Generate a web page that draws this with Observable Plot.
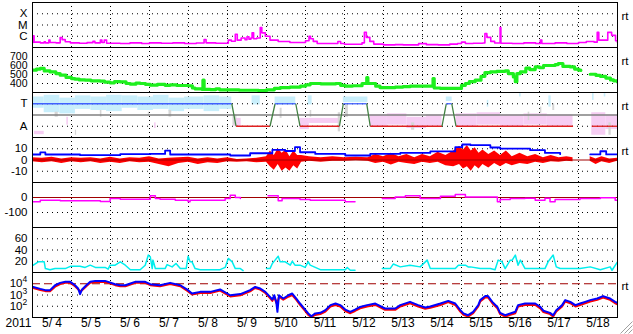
<!DOCTYPE html>
<html><head><meta charset="utf-8">
<script src="https://cdn.jsdelivr.net/npm/d3@7"></script>
<script src="https://cdn.jsdelivr.net/npm/@observablehq/plot@0.6"></script>
<style>
body{margin:0;background:#fff;}
#chart{position:relative;width:633px;height:334px;overflow:hidden;background:#fff;font-family:"Liberation Sans",Arial,sans-serif;}
#chart svg{position:absolute;left:0;}
</style></head><body><div id="chart"></div>
<script>
// ---- axis / tick data ----
const dateLabels = ["5/ 4","5/ 5","5/ 6","5/ 7","5/ 8","5/ 9","5/10","5/11","5/12","5/13","5/14","5/15","5/16","5/17","5/18"];
const yearLabel = "2011";
const dayLines = [1,2,3,4,5,6,7,8,9,10,11,12,13,14];

// ---- panel 1: X-ray flux (W/m2) ----
const xrayLevels = [1e-4, 1e-5, 1e-6];
const xrayClasses = ["X", "M", "C"];
const xrayDay = [0,0.02,0.04,0.2,0.3,0.33,0.42,0.45,0.6,0.71,0.76,0.84,0.97,1.2,1.4,1.55,1.6,1.74,1.78,1.84,1.9,2.25,2.5,2.8,3.0,3.3,3.6,3.9,4.2,4.4,4.45,4.7,5.02,5.1,5.2,5.25,5.35,5.45,5.5,5.55,5.6,5.63,5.67,5.75,5.84,5.88,5.97,6.09,6.3,6.6,6.9,7.0,7.09,7.13,7.2,7.3,7.6,7.83,7.9,8.0,8.3,8.45,8.51,8.56,8.65,8.75,9.0,9.3,9.5,9.9,10.1,10.4,10.7,10.9,11.0,11.1,11.3,11.55,11.6,11.65,11.75,11.85,11.99,12.01,12.3,12.6,12.9,13.02,13.06,13.4,13.7,14.0,14.2,14.4,14.48,14.52,14.7,14.75,14.85,14.95,15];
const xrayFlux = [2.8e-7,1.07e-6,3.0e-7,2.6e-7,3.2e-7,2.6e-7,4.5e-7,2.8e-7,2.6e-7,7.8e-7,5.0e-7,3.2e-7,2.6e-7,2.4e-7,2.7e-7,3.5e-7,2.6e-7,4.5e-7,2.8e-7,4.5e-7,2.4e-7,2.3e-7,2.6e-7,2.3e-7,2.6e-7,2.4e-7,2.6e-7,2.3e-7,2.5e-7,5.1e-7,2.6e-7,2.4e-7,4.5e-7,3.6e-7,1.5e-6,4.5e-7,7.0e-7,5.0e-7,9.0e-7,5.5e-7,7.0e-7,2.0e-6,6.0e-7,7.0e-7,6.0e-6,2.0e-6,1.0e-6,4.5e-7,3.4e-7,2.8e-7,2.8e-7,4.0e-7,1.0e-6,6.0e-7,3.5e-7,2.3e-7,2.3e-7,3.4e-7,2.3e-7,1.95e-7,1.95e-7,2.6e-7,2.3e-6,8.0e-7,3.5e-7,2.0e-7,1.7e-7,1.8e-7,1.7e-7,2.2e-7,1.8e-7,1.7e-7,2.0e-7,2.3e-7,3.0e-7,2.3e-7,2.4e-7,2.5e-7,1.7e-6,8.0e-7,3.5e-7,2.5e-7,6.0e-6,2.4e-7,2.3e-7,2.6e-7,2.3e-7,4.5e-7,2.3e-7,2.6e-7,2.3e-7,2.8e-7,3.4e-7,3.0e-7,2.2e-6,4.5e-7,4.5e-7,2.2e-6,1.2e-6,4.0e-7,2.8e-7];

// ---- panel 2: solar wind speed (km/s) ----
const speedTicks = [400, 500, 600, 700];
const speedDay = [0.02,0.1,0.2,0.3,0.45,0.6,0.71,0.86,1.0,1.09,1.2,1.35,1.5,1.74,1.85,1.99,2.1,2.25,2.4,2.51,2.65,2.76,2.9,3.02,3.2,3.4,3.53,3.7,3.99,4.1,4.17,4.34,4.37,4.40,4.56,4.7,4.8,5.02,5.3,5.59,5.8,6.0,6.2,6.35,6.6,6.87,7.0,7.12,7.4,7.77,7.9,8.02,8.2,8.33,8.45,8.57,8.6,8.66,8.8,8.91,9.1,9.3,9.5,9.68,9.9,10.12,10.27,10.3,10.46,10.7,10.92,11.0,11.1,11.2,11.35,11.5,11.6,11.74,11.9,12.12,12.2,12.33,12.38,12.42,12.51,12.65,12.75,12.89,13.0,13.1,13.27,13.4,13.48,13.6,13.79,13.9,14.0,14.06,14.2,14.3,14.45,14.56,14.7,14.82,14.9,15];
const speedKms = [548,560,567,540,529,510,492,467,455,448,440,437,430,426,415,407,420,418,400,392,405,400,390,381,390,380,385,378,375,350,340,335,437,335,333,340,330,330,325,325,320,330,345,355,360,370,385,400,395,400,380,370,375,375,400,465,400,400,370,355,355,360,365,370,370,370,455,350,345,345,345,380,400,420,437,480,520,529,535,540,510,473,420,510,529,570,555,584,575,600,600,610,622,590,584,560,548,545,NaN,503,490,480,460,440,430,418];

// ---- panel 3: IMF sector (T = +1, A = -1) ----
const sectorDay = [0,5.11,5.22,6.09,6.22,6.75,6.86,7.87,7.97,8.57,8.66,10.5,10.61,10.75,10.86,13.86,14.1,14.34,15];
const sectorVal = [1,1,-1,-1,1,1,-1,-1,1,1,-1,-1,1,1,-1,-1,NaN,-1,-1];
const towardPts = [[0,0.3,0.6,1.6],[0.3,0.7,0.2,1.75],[0.7,1.1,0.1,1.5],[1.1,1.5,0.5,1.7],[1.5,1.9,0.4,1.6],[1.9,2.3,0.3,1.75],[2.3,2.7,0.6,1.7],[2.7,3.1,0.4,1.6],[3.1,3.5,0.5,1.75],[3.5,3.9,0.3,1.5],[3.9,4.4,0.5,1.6],[4.4,4.8,0.3,1.7],[4.8,5.11,0.5,1.6],[5.63,5.84,0.9,1.7],[6.22,6.75,0.9,1.6],[7.07,7.17,0.9,1.7],[7.97,8.6,1.1,1.6],[10.61,10.76,1.2,1.6],[11.66,11.7,0.7,1.3],[12.49,12.53,1.6,1.9],[13.24,13.3,0.7,1.7],[14.36,14.4,1.3,1.9],[14.66,14.7,1.6,1.9]];
const awayPts = [[0.05,0.3,-1.75,-1.45],[0.88,0.92,-0.9,-0.2],[3.13,3.17,-1.2,-0.7],[5.15,5.35,-1.0,-0.3],[6.86,7.1,-1.3,-0.3],[7.1,7.87,-0.75,-0.3],[8.66,9.1,-1.1,0.0],[9.1,9.6,-0.9,0.1],[9.6,10.1,-1.2,-0.2],[10.1,10.5,-1.0,0.0],[10.86,11.4,-1.1,0.1],[11.4,12.0,-0.9,0.2],[12.0,12.6,-1.1,0.0],[12.6,13.2,-0.9,0.1],[13.2,13.86,-1.0,0.0],[14.34,14.7,-1.8,0.2],[14.7,15,-1.3,0.0]];
const grayPts = [[0.58,0.66,-0.2,0.25],[1.1,1.13,-1.8,-1.35],[1.74,1.78,-0.2,0.4],[2.97,3.0,-0.1,0.25],[3.5,3.57,-0.2,0.4],[5.14,5.24,-0.9,0.0],[6.35,6.4,-0.3,0.6],[7.12,7.16,-0.2,0.4],[7.84,7.9,-1.5,0.2],[8.02,8.1,-0.2,0.9],[9.72,9.8,-1.35,-0.7],[12.71,12.75,-0.5,0.25],[13.02,13.06,0.15,0.7],[13.34,13.39,0.4,1.0],[14.78,14.84,-1.8,-0.7]];

// ---- panel 4: IMF Bt (blue) and Bz range (red), nT ----
const bTicks = [10, 0, -10];
const btDay = [0,0.2,0.33,1.22,2.25,3.02,3.4,3.53,5.07,5.58,6.15,6.48,6.73,6.86,7.25,8.02,8.66,9.43,10.2,10.84,11.02,11.23,11.74,11.99,12.76,13.14,13.53,13.86,14.3,14.56,14.71,15];
const btNT = [4.9,6.7,4.9,4.3,5.2,5.4,8.4,4.9,4.0,6.0,9.0,8.0,11.4,6.9,5.4,4.0,5.4,6.3,7.6,11.4,13.8,13.2,11.1,10.2,8.7,6.3,5.2,NaN,5.0,7.8,5.0,5.0];
const bzDay = [0,0.25,0.5,0.75,1,1.25,1.5,1.75,2,2.25,2.5,2.75,3,3.25,3.5,3.75,4,4.25,4.5,4.75,5,5.25,5.5,5.75,6,6.1,6.2,6.3,6.4,6.5,6.6,6.7,6.8,6.9,7.1,7.4,7.7,8,8.3,8.6,8.8,9,9.2,9.4,9.6,9.8,10,10.2,10.4,10.6,10.8,10.95,11.05,11.15,11.25,11.35,11.45,11.55,11.7,11.85,12,12.15,12.3,12.5,12.7,12.9,13.1,13.3,13.5,13.7,13.86,14.1,14.3,14.45,14.6,14.8,15];
const bzLo = [-1.5,-2.5,-1.5,-3,-1.5,-2.5,-1.5,-3,-2,-3,-1.5,-2.5,-2,-4,-6,-3,-2,-4,-2.5,-3,-1.5,-2,-1.5,-2.5,-2,-6,-9,-4,-10,-7,-10,-5,-8,-2,-1,-2,-1,-1,-0.5,-1,-3,-2,-4.5,-2,-3,-4,-2,-3,-2,-5,-6,-4,-8,-6,-10,-5,-8,-4,-7,-3,-6,-3,-5,-3,-4,-2,-3,-1.5,-2,-1,-1.5,NaN,-1,-4,-1.5,-3,-1];
const bzHi = [2,1.5,2.5,1,2,1.5,2,1,2.5,1,2,1.5,3,1,1.5,2,2.5,1,2,1,2,0.5,1,1.5,3,8,4,10,6,9,3,8,4,4,3,2,3,2,2.5,2,5,3,6,3,5,2,5,3,7,4,8,12,9,13,8,11,6,9,5,8,4,8,3,6,3,5,2,4,2,3,2,NaN,3,1,3,1,1.5];

// ---- panel 5: Dst (nT) ----
const dstTicks = [0, -100];
const dstDay = [0,0.2,0.71,1.74,1.99,2.25,2.97,3.02,3.15,3.27,3.66,3.99,4.04,4.81,4.94,5.07,5.2,5.33,5.5,6.04,6.22,6.3,6.4,6.86,7.12,7.89,8.02,8.27,8.6,8.97,9.3,9.56,9.94,10.46,10.84,11.1,11.86,11.92,11.99,12.25,12.63,12.89,13.14,13.27,13.4,14.04,14.56,14.86,14.94,15];
const dstNT = [-29,-18,-21,-27,-7,-11,-11,11,-7,-11,-18,-29,-18,-18,-7,15,0,-7,NaN,11,11,-22,-7,-13,-18,-18,-29,-29,NaN,-7,4,11,-7,9,20,4,4,-29,-13,-7,-5,-18,-5,-29,-13,-7,-2,-2,-18,-18];

// ---- panel 6: cyan index ----
const cyanTicks = [60, 40, 20];
const cyanDay = [0.02,0.15,0.3,0.33,0.45,0.58,0.84,0.97,1.22,1.35,1.48,1.61,1.86,1.94,1.99,2.12,2.25,2.38,2.51,2.76,2.89,2.97,3.02,3.07,3.09,3.15,3.4,3.45,3.58,3.68,3.79,3.94,3.99,4.04,4.09,4.17,4.3,4.81,4.94,5.02,5.12,5.2,5.33,5.4,5.5,6.0,6.09,6.15,6.22,6.3,6.35,6.48,6.61,6.66,6.73,6.86,6.99,7.07,7.12,7.38,8.02,8.07,8.15,8.27,8.5,8.97,9.17,9.25,9.43,9.68,9.94,10.12,10.2,10.84,10.92,11.1,11.17,11.23,11.48,11.74,11.86,11.94,12.04,12.12,12.25,12.3,12.38,12.45,12.51,12.63,13.14,13.22,13.35,13.43,13.53,14.04,14.3,14.56,14.81,14.86,15];
const cyanVal = [13,19,19,7,5,7,7,11,11,9,13,9,9,6,13,13,19,13,5,5,13,31,28,7,22,7,7,14,10,16,7,7,29,19,19,7,5,5,9,25,19,7,7,3.4,NaN,7,7,16,22,29,19,19,13,20,13,13,9,19,13,5,5,9,4,4,NaN,7,7,15,10,13,10,22,7,7,13,13,10,10,7,7,5,22,19,7,22,22,31,13,22,7,7,19,31,10,7,7,10,5,10,4,19];

// ---- panel 7: electron flux (blue, red) ----
const eTicks = [1e4, 1e3, 1e2];
const eExp = ["4", "3", "2"];
const eDay = [0.02,0.2,0.33,0.45,0.58,0.71,0.84,0.97,1.09,1.17,1.22,1.27,1.38,1.48,1.61,1.86,1.94,2.12,2.25,2.38,2.51,2.63,2.89,3.02,3.27,3.53,3.79,3.99,4.09,4.3,4.56,4.81,5.07,5.33,5.58,5.71,5.84,5.97,6.09,6.15,6.2,6.25,6.28,6.32,6.43,6.56,6.66,6.76,6.86,6.99,7.07,7.15,7.25,7.38,7.51,7.64,7.77,7.89,8.02,8.15,8.27,8.4,8.58,8.79,9.04,9.3,9.43,9.68,9.89,10.07,10.2,10.46,10.66,10.84,10.97,11.05,11.17,11.3,11.43,11.48,11.61,11.68,11.79,11.92,11.99,12.12,12.25,12.38,12.45,12.63,12.89,13.02,13.1,13.27,13.35,13.43,13.58,13.66,13.79,13.92,14.04,14.17,14.3,14.48,14.63,14.81,14.94,15];
const eBlue = [5.2e3,3.5e3,2.7e3,2.7e3,7.4e3,1.2e4,1.48e4,1.48e4,7.4e3,3.8e3,1.2e3,3.1e3,7.4e3,1.48e4,1.8e4,1.8e4,1.48e4,9.1e3,7.4e3,7.4e3,1.05e4,1.48e4,1.48e4,9.1e3,7.4e3,1.2e4,7.4e3,2.7e3,1.35e3,1.9e3,1.9e3,3.1e3,950,1.2e3,2.7e3,5.2e3,3.8e3,1.9e3,680,400,950,245,32,950,490,950,1.35e3,490,175,51,23,13,23,26,45,126,175,126,51,32,51,87,126,175,63,63,126,245,126,78,95,175,300,175,45,23,16,32,126,350,800,800,245,87,26,16,23,32,126,175,175,87,40,26,16,45,126,350,245,126,175,245,350,490,800,490,245,200];
const eRed = [4.2e3,2.8e3,2.2e3,2.2e3,5.5e3,9.5e3,1.2e4,1.2e4,6.0e3,3.2e3,2.2e3,2.6e3,6.0e3,1.2e4,1.4e4,1.4e4,1.2e4,7.5e3,6.0e3,6.0e3,8.5e3,1.2e4,1.2e4,7.5e3,6.0e3,9.5e3,6.0e3,2.1e3,1.1e3,1.5e3,1.5e3,2.5e3,750,950,2.1e3,4.2e3,3.0e3,1.5e3,520,300,700,200,200,700,380,700,1.0e3,380,130,38,17,11,17,20,34,95,130,95,38,24,38,65,95,130,48,48,95,185,95,60,72,130,230,130,34,17,12,24,95,260,600,600,185,65,20,12,17,24,95,130,130,65,30,20,12,34,95,260,185,95,130,185,260,370,600,370,185,150];

// ---- drawing ----
const chart = document.getElementById("chart");
const TOPS = [2, 47, 92, 137, 182, 227, 272];
const FONT = "'Liberation Sans', Arial, Helvetica, sans-serif";
const DOT = "1,4";
const VDOT = "1,3";
const LFS = 11.5;

function ylabels(vals, texts, fs = LFS) {
  return Plot.text(vals, {y: d => d, text: (d, i) => texts[i], frameAnchor: "left", textAnchor: "end", dx: -5, fontSize: fs, fill: "black"});
}
function grid(vals) {
  return Plot.ruleY(vals, {stroke: "black", strokeDasharray: DOT});
}
function rt() {
  return Plot.text(["rt"], {text: d => d, frameAnchor: "top-right", textAnchor: "start", dx: 4, dy: 9, fontSize: 11.5, fill: "black"});
}
function panel(i, y, marks, extra = 0) {
  const svg = Plot.plot({
    width: 633, height: 49 + extra,
    marginLeft: 32, marginRight: 16, marginTop: 2, marginBottom: 2 + extra,
    x: {domain: [0, 15], axis: null},
    y: {...y, axis: null},
    color: {type: "identity"},
    style: {background: "transparent", overflow: "visible", fontFamily: FONT, fontSize: "12px", color: "black"},
    marks: [
      Plot.ruleX(dayLines, {stroke: "black", strokeDasharray: VDOT}),
      ...marks,
      Plot.frame({stroke: "black"})
    ]
  });
  svg.style.position = "absolute";
  svg.style.top = (TOPS[i] - 2) + "px";
  svg.style.left = "0px";
  chart.appendChild(svg);
}
const idx = n => d3.range(n);
const rectOpts = fill => ({x1: d => d[0], x2: d => d[1], y1: d => d[2], y2: d => d[3], fill, clip: true});

// 1 X-ray
panel(0, {type: "log", domain: [1e-7, 1e-3]}, [
  grid(xrayLevels),
  ylabels(xrayLevels, xrayClasses),
  Plot.line(idx(xrayDay.length), {x: i => xrayDay[i], y: i => xrayFlux[i], stroke: "#ff00ff", strokeWidth: 1.6, curve: "step-after", clip: true}),
  rt()
]);

// 2 speed
panel(1, {domain: [300, 800]}, [
  grid(speedTicks),
  ylabels(speedTicks, speedTicks.map(String), 10.5),
  Plot.line(idx(speedDay.length), {x: i => speedDay[i], y: i => speedKms[i], stroke: "#1eef1e", strokeWidth: 3.2, curve: "step-after", clip: true}),
  rt()
]);

// 3 sector
const segs = d3.range(sectorDay.length - 1).filter(i => !isNaN(sectorVal[i]) && !isNaN(sectorVal[i + 1]));
panel(2, {domain: [-2, 2]}, [
  Plot.rect(towardPts, rectOpts("#c8eefb")),
  Plot.rect(awayPts, rectOpts("#f6cdf3")),
  Plot.rect(grayPts, rectOpts("#d6d6d6")),
  grid([1, -1]),
  Plot.ruleY([0], {stroke: "#808080", strokeWidth: 1.3}),
  ylabels([1, -1], ["T", "A"]),
  Plot.link(segs, {
    x1: i => sectorDay[i], y1: i => sectorVal[i], x2: i => sectorDay[i + 1], y2: i => sectorVal[i + 1],
    stroke: i => sectorVal[i] === sectorVal[i + 1] ? (sectorVal[i] > 0 ? "#4060ff" : "#e02020") : "#408040",
    strokeWidth: 1.3
  }),
  rt()
]);

// 4 Bt / Bz
panel(3, {domain: [-20, 20]}, [
  grid([10, -10]),
  ylabels(bTicks, bTicks.map(String)),
  Plot.areaY(idx(bzDay.length), {x: i => bzDay[i], y1: i => bzLo[i], y2: i => bzHi[i], fill: "#ff0000", clip: true}),
  Plot.ruleY([0], {stroke: "#a00000"}),
  Plot.line(idx(btDay.length), {x: i => btDay[i], y: i => btNT[i], stroke: "#0000ff", strokeWidth: 1.8, curve: "step-after", clip: true}),
  rt()
]);

// 5 Dst
panel(4, {domain: [-200, 100]}, [
  grid([-100]),
  Plot.ruleY([0], {stroke: "#a00000"}),
  ylabels(dstTicks, dstTicks.map(String)),
  Plot.line(idx(dstDay.length), {x: i => dstDay[i], y: i => dstNT[i], stroke: "#ff00ff", strokeWidth: 1.5, curve: "step-after", clip: true})
]);

// 6 cyan
panel(5, {domain: [0, 80]}, [
  grid(cyanTicks),
  ylabels(cyanTicks, cyanTicks.map(String)),
  Plot.line(idx(cyanDay.length), {x: i => cyanDay[i], y: i => cyanVal[i], stroke: "#00eeee", strokeWidth: 1.5, clip: true})
]);

// 7 electrons
panel(6, {type: "log", domain: [10, 1e5]}, [
  grid([1e3, 1e2]),
  Plot.ruleY([1e4], {stroke: "#a00000", strokeDasharray: "8,4", strokeWidth: 1.2}),
  Plot.text(eTicks, {y: d => d, text: () => "10", frameAnchor: "left", textAnchor: "end", dx: -10, fontSize: LFS, fill: "black"}),
  Plot.text(eTicks, {y: d => d, text: (d, i) => eExp[i], frameAnchor: "left", textAnchor: "start", dx: -10, dy: -4, fontSize: 8.5, fill: "black"}),
  Plot.line(idx(eDay.length), {x: i => eDay[i], y: i => eRed[i], stroke: "#ff0000", strokeWidth: 2, clip: true}),
  Plot.line(idx(eDay.length), {x: i => eDay[i], y: i => eBlue[i], stroke: "#0000ff", strokeWidth: 2, clip: true}),
  Plot.text(dateLabels, {x: (d, i) => i + 0.5, text: d => d, frameAnchor: "bottom", dy: 9, fontSize: 12, fill: "black"}),
  Plot.text([yearLabel], {text: d => d, frameAnchor: "bottom-left", textAnchor: "start", dx: -27, dy: 9, fontSize: 12, fill: "black"}),
  rt()
], 17);
</script>
<svg style="position:absolute;left:619px;top:320px" width="14" height="14"><path d="M13.5 1.5L1.5 13.5M13.5 5.5L5.5 13.5M13.5 9.5L9.5 13.5" stroke="#a0a0a0" stroke-width="1" fill="none"/></svg>
</body></html>
